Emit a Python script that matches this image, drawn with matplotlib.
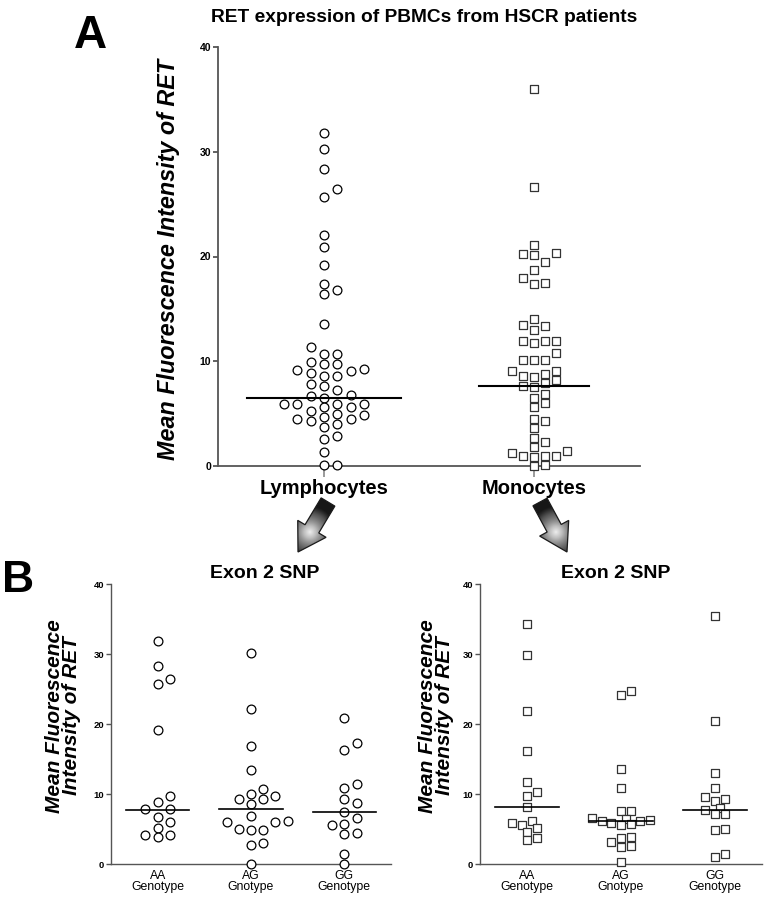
import numpy as np
import matplotlib
matplotlib.use("Agg")
import matplotlib.pyplot as plt
from matplotlib.patches import Polygon

# ---- data ----
lymph = [31.8, 30.3, 28.4, 26.4, 25.7, 22.1, 20.9, 19.2, 17.4, 16.8, 16.4, 13.6, 11.4,
         10.7, 10.7, 9.9, 9.7, 9.7, 9.3, 9.2, 9.1, 8.9, 8.6, 8.6, 7.8, 7.6, 7.3,
         6.75, 6.65, 6.5, 5.9, 5.9, 5.9, 5.9, 5.65, 5.6, 5.25, 4.95, 4.85, 4.7,
         4.45, 4.45, 4.3, 4.05, 3.7, 2.9, 2.6, 1.3, 0.07, 0.07]
mono = [36.0, 26.6, 21.1, 20.3, 20.2, 20.1, 19.5, 18.7, 17.9, 17.5, 17.4,
        14.0, 13.5, 13.4, 13.0, 11.9, 11.9, 11.9, 11.7, 10.8, 10.15, 10.1, 10.1,
        9.05, 9.05, 8.8, 8.6, 8.5, 8.2, 7.9, 7.6, 7.5, 6.9, 6.5, 6.0, 5.6, 4.5,
        4.3, 3.6, 2.7, 2.3, 1.8, 1.45, 1.25, 0.93, 0.93, 0.93, 0.86, 0.07, 0.0]
cell_types = ["Lymphocytes", "Monocytes"]
medians_a = [6.45, 7.6]

genotypes = ["AA\nGenotype", "AG\nGnotype", "GG\nGenotype"]
lymph_aa = [31.9, 28.3, 26.4, 25.7, 19.1, 9.7, 8.9, 7.8, 7.8, 6.7, 5.95, 5.2, 4.2, 4.1, 3.85]
lymph_ag = [30.2, 22.1, 16.9, 13.5, 10.7, 10.0, 9.7, 9.3, 9.25, 8.6, 6.85, 6.1, 5.95, 5.95,
            5.0, 4.9, 4.85, 3.0, 2.65, 0.0]
lymph_gg = [20.9, 17.3, 16.3, 11.4, 10.8, 9.3, 8.7, 7.5, 6.6, 5.7, 5.55, 4.5, 4.3, 1.4, 0.0]
medians_bl = [7.75, 7.8, 7.45]

mono_aa = [34.3, 29.8, 21.8, 16.2, 11.7, 10.3, 9.75, 8.2, 6.1, 5.85, 5.55, 5.2, 4.6, 3.65, 3.5]
mono_ag = [24.7, 24.1, 13.6, 10.9, 7.6, 7.6, 6.6, 6.5, 6.3, 6.2, 6.1, 5.9, 5.65, 5.6,
           3.8, 3.65, 3.1, 2.6, 2.4, 0.35]
mono_gg = [35.5, 20.5, 13.0, 10.8, 9.55, 9.25, 9.0, 8.0, 7.7, 7.1, 7.1, 5.05, 4.8, 1.5, 1.05]
medians_br = [8.2, 6.1, 7.7]

W, H = 764, 899
AX_GRAY = "#555555"
FONT = "Liberation Sans"


def box(l, t, r, b):
    # pixel box -> figure fraction
    return [l / W, 1 - b / H, (r - l) / W, (b - t) / H]


def swarm(values, step_px, min_px, px_per_y, sub=1):
    # greedy beeswarm on a grid of (step/sub) columns
    placed = []
    out = np.zeros(len(values))
    order = np.argsort(values)
    cand = [0] + [s * j for j in range(1, 40) for s in (1, -1)]
    for i in order:
        y = values[i] * px_per_y
        for c in cand:
            x = c * step_px / sub
            if all((px - x) ** 2 + (py - y) ** 2 >= min_px ** 2 for px, py in placed):
                break
        placed.append((x, y))
        out[i] = x
    return out


def scatter_group(ax, pos, vals, marker, step_px, min_px, size, ec, sub=1):
    bb = ax.get_position()
    xr = ax.get_xlim()
    yr = ax.get_ylim()
    px_x = bb.width * W / (xr[1] - xr[0])
    px_y = bb.height * H / (yr[1] - yr[0])
    vals = np.asarray(vals, dtype=float)
    off = swarm(vals, step_px, min_px, px_y, sub) / px_x
    ax.scatter(pos + off, vals, s=size, marker=marker, facecolors="white",
               edgecolors=ec, linewidths=0.9, clip_on=False, zorder=3)


def style_axes(ax, lw, tick_fs):
    for sp in ("top", "right"):
        ax.spines[sp].set_visible(False)
    for sp in ("left", "bottom"):
        ax.spines[sp].set_color(AX_GRAY)
        ax.spines[sp].set_linewidth(lw)
    ax.set_ylim(0, 40)
    ax.set_yticks([0, 10, 20, 30, 40])
    ax.tick_params(axis="y", length=3.5, width=lw, color=AX_GRAY, pad=1.5,
                   labelsize=tick_fs)
    for t in ax.get_yticklabels():
        t.set_fontweight("bold")
        t.set_family(FONT)


fig = plt.figure(figsize=(W / 100, H / 100), dpi=100)

# ---- panel A ----
axA = fig.add_axes(box(218, 47, 640, 466))
axA.set_xlim(0.495, 2.505)
style_axes(axA, 1.3, 7.5)
axA.set_xticks([1, 2])
axA.set_xticklabels(cell_types, fontsize=14.5, fontweight="bold", family=FONT)
axA.tick_params(axis="x", length=8, width=1.2, color="#8a8a8a", pad=1)
scatter_group(axA, 1, lymph, "o", 13.3, 9.0, 40, "black")
scatter_group(axA, 2, mono, "s", 10.9, 8.5, 32, "#333333")
half_a = [0.365, 0.26]
for i, m in enumerate(medians_a):
    axA.plot([i + 1 - half_a[i], i + 1 + half_a[i]], [m, m], color="black", lw=1.5, zorder=4)

fig.text(424 / W, 1 - 17 / H, "RET expression of PBMCs from HSCR patients", ha="center",
         va="center", fontsize=13.8, fontweight="bold", family=FONT)
fig.text(90 / W, 1 - 36 / H, "A", ha="center", va="center", fontsize=33,
         fontweight="bold", family=FONT)
fig.text(168 / W, 1 - 259 / H, "Mean Fluorescence Intensity of RET", ha="center",
         va="center", rotation=90, fontsize=16.8, fontweight="bold", style="italic",
         family=FONT)

# ---- panel B ----
fig.text(18 / W, 1 - 581 / H, "B", ha="center", va="center", fontsize=32,
         fontweight="bold", family=FONT)

panels = [
    (box(111, 584, 391, 864), [lymph_aa, lymph_ag, lymph_gg], medians_bl, "o", 12.2, 9.0, 40,
     "black", 1, 265, 63),
    (box(480, 584, 762, 864), [mono_aa, mono_ag, mono_gg], medians_br, "s", 9.7, 7.5, 32,
     "#333333", 2, 616, 436),
]
for rect, groups, meds, mk, step, mind, sz, ec, sub, tx, lx in panels:
    ax = fig.add_axes(rect)
    ax.set_xlim(0.5, 3.5)
    style_axes(ax, 1.0, 6.8)
    ax.set_xticks([1, 2, 3])
    ax.set_xticklabels(genotypes, fontsize=8.8, family=FONT, linespacing=0.95)
    ax.tick_params(axis="x", length=0, pad=4)
    for j, g in enumerate(groups):
        scatter_group(ax, j + 1, g, mk, step, mind, sz, ec, sub)
        ax.plot([j + 1 - 0.34, j + 1 + 0.34], [meds[j], meds[j]], color="black",
                lw=1.2, zorder=4)
    fig.text(tx / W, 1 - 573 / H, "Exon 2 SNP", ha="center", va="center", fontsize=14,
             fontweight="bold", family=FONT)
    fig.text(lx / W, 1 - 716 / H, "Mean Fluorescence\nIntensity of RET", ha="center",
             va="center", rotation=90, fontsize=15, fontweight="bold", style="italic",
             family=FONT, linespacing=0.92)

# ---- gradient arrows ----
ov = fig.add_axes([0, 0, 1, 1], zorder=5)
ov.axis("off")
ov.patch.set_alpha(0)


def block_arrow(tail, tip, w=8.0, hw=16.5, hl=27):
    tail = np.array(tail, float)
    tip = np.array(tip, float)
    u = (tip - tail) / np.linalg.norm(tip - tail)
    n = np.array([-u[1], u[0]])
    neck = tip - u * hl
    pts = [tail + n * w, neck + n * w, neck + n * hw, tip, neck - n * hw, neck - n * w, tail - n * w]
    poly = Polygon(pts, closed=True, facecolor="none", edgecolor="#1a1a1a", lw=0.9, zorder=6)
    ov.add_patch(poly)
    c = neck + u * 4
    xs = np.linspace(c[0] - 45, c[0] + 45, 150)
    ys = np.linspace(c[1] - 45, c[1] + 45, 150)
    X, Y = np.meshgrid(xs, ys)
    R = np.clip(np.hypot(X - c[0], Y - c[1]) / 26.0, 0, 1)
    img = ov.imshow(0.12 + 0.8 * R ** 0.8, cmap="Greys", vmin=0, vmax=1,
                    extent=(xs[0], xs[-1], ys[-1], ys[0]), zorder=5, aspect="auto")
    img.set_clip_path(poly)


block_arrow((328, 502), (298, 552))
block_arrow((540, 502), (567, 552))
ov.set_xlim(0, W)
ov.set_ylim(H, 0)

fig.savefig("out.png", dpi=100)
